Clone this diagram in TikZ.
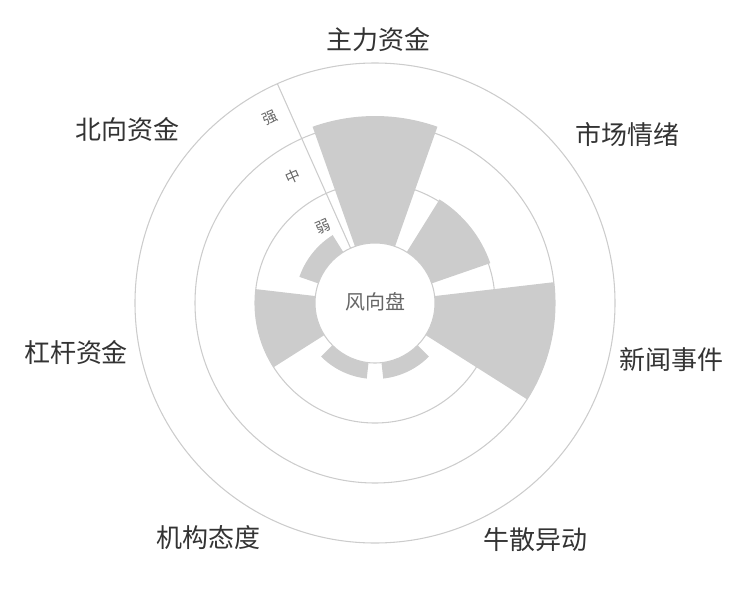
\documentclass[tikz,border=0pt]{standalone}
\usepackage{fontspec}
\newfontfamily\cjk{Noto Sans CJK SC}
\begin{document}
\begin{tikzpicture}[x=0.75pt,y=0.75pt,
  ring/.style={draw=black!20,line width=0.8pt},
  bar/.style={fill=black!20},
  lab/.style={font=\cjk\fontsize{19.5pt}{22pt}\selectfont,text=black!80},
  axlab/.style={font=\cjk\fontsize{11pt}{13pt}\selectfont,text=black!60,rotate=24}]
\useasboundingbox (0,0) rectangle (750,-600);
\coordinate (C) at (375,-303);
\foreach \r in {120,180,240} \draw[ring] (C) circle[radius=\r];
\foreach \k/\rr in {0/187,1/122,2/180,3/76,4/76,5/120,6/80}{
  \pgfmathsetmacro{\a}{90-\k*360/7-19.5}
  \pgfmathsetmacro{\b}{90-\k*360/7+19.5}
  \fill[bar] ([shift={(\a:60)}]C) arc[start angle=\a,end angle=\b,radius=60]
    -- ([shift={(\b:\rr)}]C) arc[start angle=\b,end angle=\a,radius=\rr] -- cycle;
}
\draw[ring,fill=white] (C) circle[radius=60];
\draw[ring] ([shift={(114:60)}]C) -- ([shift={(114:240)}]C);
\node[axlab] (s) at (270,-118) {强};
\node[axlab] (m) at (293,-176) {中};
\node[axlab] (w) at (323,-227) {弱};
\node[font=\cjk\fontsize{15pt}{17pt}\selectfont,text=black!60] (c) at (375,-302) {风向盘};
\node[lab] (l1) at (378,-40) {主力资金};
\node[lab] (l2) at (627,-135) {市场情绪};
\node[lab] (l3) at (671,-360) {新闻事件};
\node[lab] (l4) at (535,-540) {牛散异动};
\node[lab] (l5) at (208,-538) {机构态度};
\node[lab] (l6) at (76,-353) {杠杆资金};
\node[lab] (l7) at (127,-130) {北向资金};
\end{tikzpicture}
\end{document}
